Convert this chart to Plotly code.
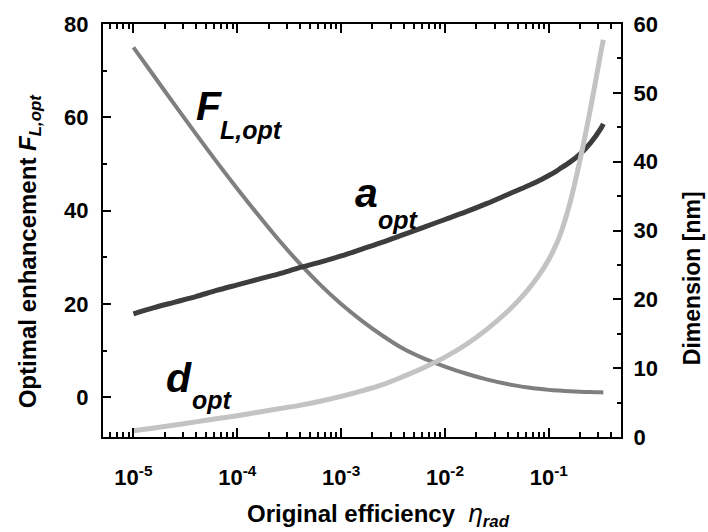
import plotly.graph_objects as go

# x: original efficiency eta_rad
eta = [1e-5, 1.585e-5, 2.512e-5, 3.981e-5, 6.310e-5, 1e-4, 1.585e-4, 2.512e-4, 3.981e-4, 6.310e-4,
       1e-3, 1.585e-3, 2.512e-3, 3.981e-3, 6.310e-3, 1e-2, 1.585e-2, 2.512e-2, 3.981e-2, 5.012e-2,
       6.310e-2, 0.07943, 0.1, 0.1122, 0.1259, 0.1585, 0.1995, 0.2512, 0.3162, 0.335]
F_opt = [75.0, 68.8, 62.6, 56.5, 50.5, 44.7, 39.1, 33.7, 28.7, 24.1,
         20.0, 16.4, 13.2, 10.4, 8.3, 6.6, 5.1, 3.85, 2.85, 2.45,
         2.1, 1.82, 1.6, 1.52, 1.44, 1.3, 1.2, 1.12, 1.07, 1.05]
a_opt = [17.9, 18.8, 19.6, 20.4, 21.3, 22.1, 22.9, 23.7, 24.6, 25.4,
         26.3, 27.3, 28.3, 29.4, 30.5, 31.6, 32.7, 33.9, 35.2, 35.85,
         36.5, 37.2, 38.0, 38.4, 38.9, 39.9, 41.1, 42.7, 44.8, 45.5]
d_opt = [0.9, 1.3, 1.75, 2.2, 2.65, 3.1, 3.6, 4.1, 4.6, 5.2,
         5.9, 6.7, 7.6, 8.8, 10.1, 11.6, 13.4, 15.6, 18.2, 19.7,
         21.4, 23.4, 25.8, 27.3, 29.0, 33.8, 40.2, 47.6, 55.8, 57.7]

x_tickvals = [1e-5, 1e-4, 1e-3, 1e-2, 1e-1]
x_ticktext = ["10<sup>-5</sup>", "10<sup>-4</sup>", "10<sup>-3</sup>", "10<sup>-2</sup>", "10<sup>-1</sup>"]
left_ticks = [0, 20, 40, 60, 80]
right_ticks = [0, 10, 20, 30, 40, 50, 60]

FONT = "Arial, Liberation Sans, sans-serif"

fig = go.Figure()
fig.add_trace(go.Scatter(x=eta, y=F_opt, mode="lines",
                         line=dict(color="#7f7f7f", width=4, shape="spline", smoothing=0.8), yaxis="y"))
fig.add_trace(go.Scatter(x=eta, y=a_opt, mode="lines",
                         line=dict(color="#3d3d3d", width=5, shape="spline", smoothing=0.8), yaxis="y2"))
fig.add_trace(go.Scatter(x=eta, y=d_opt, mode="lines",
                         line=dict(color="#c3c3c3", width=5, shape="spline", smoothing=0.8), yaxis="y2"))

L, R, T, B = 103, 87, 21, 95
W, H = 708, 532
pw, ph = W - L - R, H - T - B

def px(x):
    return (x - L) / pw

def py(y):
    return (H - B - y) / ph

axis_common = dict(showline=True, linewidth=2, linecolor="black", ticks="inside",
                   tickcolor="black", tickwidth=2, showgrid=False, zeroline=False,
                   tickfont=dict(family=FONT, size=22, color="black", weight="bold"))

fig.update_layout(
    width=W, height=H, showlegend=False,
    paper_bgcolor="white", plot_bgcolor="white",
    margin=dict(l=L, r=R, t=T, b=B, pad=0),
    xaxis=dict(type="log", range=[-5.293, -0.305], tickvals=x_tickvals, ticktext=x_ticktext,
               ticklen=9, mirror="ticks", ticklabelstandoff=20,
               minor=dict(ticks="inside", ticklen=5, tickwidth=1.5, tickcolor="black", dtick="D1"),
               **axis_common),
    yaxis=dict(range=[-8.5, 80], tickvals=left_ticks, ticklen=8, ticklabelstandoff=8,
               minor=dict(ticks="inside", ticklen=4, tickwidth=1.5, tickcolor="black", dtick=10),
               **axis_common),
    yaxis2=dict(range=[0, 60], tickvals=right_ticks, ticklen=8, overlaying="y", side="right",
                ticklabelstandoff=6,
                minor=dict(ticks="inside", ticklen=4, tickwidth=1.5, tickcolor="black", dtick=5),
                **axis_common),
)

ann = []
ann.append(dict(text="Optimal enhancement <i>F<sub>L,opt</sub></i>", x=px(29), y=py(250),
                xref="paper", yref="paper", showarrow=False, textangle=-90,
                font=dict(family=FONT, size=24, color="black", weight="bold"),
                xanchor="center", yanchor="middle"))
ann.append(dict(text="Dimension [nm]", x=px(692), y=py(277),
                xref="paper", yref="paper", showarrow=False, textangle=-90,
                font=dict(family=FONT, size=23, color="black", weight="bold"),
                xanchor="center", yanchor="middle"))
ann.append(dict(text="Original efficiency  <span style='font-weight:normal;font-size:26px'><i>η</i></span><sub><i>rad</i></sub>",
                x=px(378), y=py(515),
                xref="paper", yref="paper", showarrow=False,
                font=dict(family=FONT, size=24, color="black", weight="bold"),
                xanchor="center", yanchor="middle"))

big = dict(family=FONT, size=41, color="black", weight="bold")
small = dict(family=FONT, size=25, color="black", weight="bold")
ann.append(dict(text="<i>F</i>", x=px(209), y=py(104), xref="paper", yref="paper", showarrow=False,
                font=big, xanchor="center", yanchor="middle"))
ann.append(dict(text="<i>L,opt</i>", x=px(251), y=py(128), xref="paper", yref="paper", showarrow=False,
                font=small, xanchor="center", yanchor="middle"))
ann.append(dict(text="<i>a</i>", x=px(366), y=py(191), xref="paper", yref="paper", showarrow=False,
                font=big, xanchor="center", yanchor="middle"))
ann.append(dict(text="<i>opt</i>", x=px(398), y=py(218), xref="paper", yref="paper", showarrow=False,
                font=small, xanchor="center", yanchor="middle"))
ann.append(dict(text="<i>d</i>", x=px(179), y=py(378), xref="paper", yref="paper", showarrow=False,
                font=big, xanchor="center", yanchor="middle"))
ann.append(dict(text="<i>opt</i>", x=px(212), y=py(400), xref="paper", yref="paper", showarrow=False,
                font=small, xanchor="center", yanchor="middle"))
fig.update_layout(annotations=ann)

fig.write_html("out.html")
